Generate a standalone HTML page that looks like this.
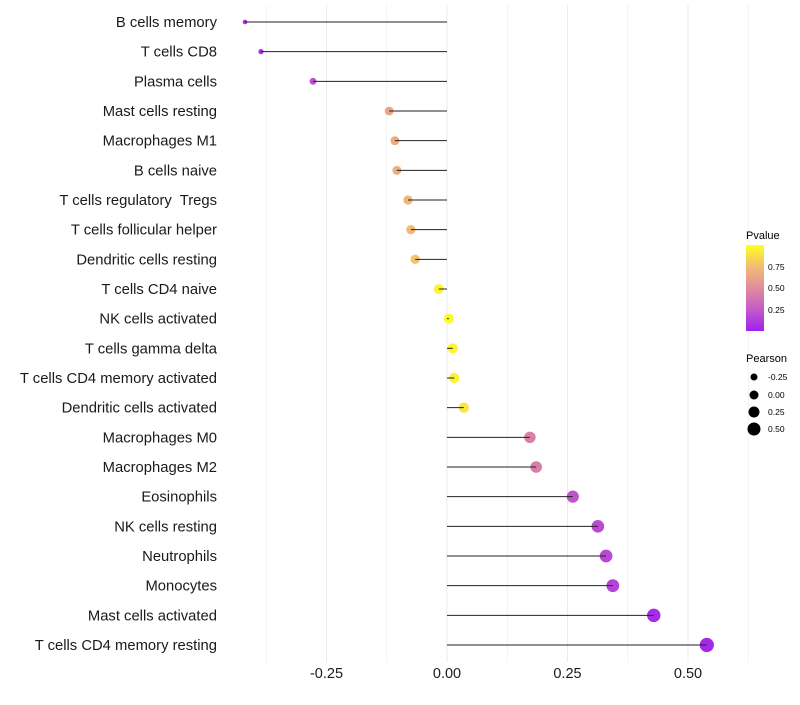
<!DOCTYPE html>
<html><head><meta charset="utf-8"><style>
body{margin:0;background:#fff;font-family:"Liberation Sans",sans-serif}
</style></head><body>
<svg id="chart" width="800" height="700" xmlns="http://www.w3.org/2000/svg">
<g id="grid"></g><g id="dots"></g><g id="marks"></g><g id="labels"></g><g id="axis"></g>
<g id="legend">
<text x="746" y="239" font-size="11" fill="#000">Pvalue</text>
<defs><linearGradient id="pg" x1="0" y1="1" x2="0" y2="0">
<stop offset="0" stop-color="#a020f0"/><stop offset="0.25" stop-color="#c45bc8"/><stop offset="0.5" stop-color="#e08c9c"/><stop offset="0.75" stop-color="#f2bd74"/><stop offset="1" stop-color="#ffff20"/></linearGradient></defs>
<rect x="746" y="245" width="18" height="86" fill="url(#pg)"/>
<text x="768" y="270" font-size="8.5">0.75</text><text x="768" y="291" font-size="8.5">0.50</text><text x="768" y="313" font-size="8.5">0.25</text>
<text x="746" y="362" font-size="11">Pearson</text>
<circle cx="754" cy="377" r="3.5"/><text x="768" y="380" font-size="8.5">-0.25</text>
<circle cx="754" cy="395" r="4.5"/><text x="768" y="398" font-size="8.5">0.00</text>
<circle cx="754" cy="412" r="5.5"/><text x="768" y="415" font-size="8.5">0.25</text>
<circle cx="754" cy="429" r="6.5"/><text x="768" y="432" font-size="8.5">0.50</text>
</g>
</svg>
<script>
const categories=["B cells memory","T cells CD8","Plasma cells","Mast cells resting","Macrophages M1","B cells naive","T cells regulatory  Tregs","T cells follicular helper","Dendritic cells resting","T cells CD4 naive","NK cells activated","T cells gamma delta","T cells CD4 memory activated","Dendritic cells activated","Macrophages M0","Macrophages M2","Eosinophils","NK cells resting","Neutrophils","Monocytes","Mast cells activated","T cells CD4 memory resting"];
const pearson=[-0.419,-0.386,-0.278,-0.120,-0.108,-0.104,-0.081,-0.075,-0.066,-0.017,0.004,0.012,0.015,0.035,0.172,0.185,0.261,0.313,0.330,0.344,0.429,0.539];
const pvalue=[0.05,0.07,0.2,0.64,0.66,0.67,0.72,0.74,0.77,0.95,0.98,0.96,0.95,0.9,0.45,0.43,0.22,0.18,0.17,0.15,0.05,0.03];
const ticks=[-0.25,0,0.25,0.5];
const tickLabels=["-0.25","0.00","0.25","0.50"];
const NS="http://www.w3.org/2000/svg";
const x=v=>447+v*482;
const y=i=>22+i*(623/21);
const r=v=>Math.sqrt(Math.max(4,25+47*v));
const stops=[[0,[160,32,240]],[0.25,[196,91,200]],[0.5,[224,140,156]],[0.75,[242,189,116]],[1,[255,255,32]]];
function col(p){for(let k=1;k<stops.length;k++){if(p<=stops[k][0]){const a=stops[k-1],b=stops[k],t=(p-a[0])/(b[0]-a[0]);return 'rgb('+a[1].map((c,j)=>Math.round(c+(b[1][j]-c)*t)).join(',')+')';}}return 'rgb(255,255,32)';}
function mk(t,at,parent){const e=document.createElementNS(NS,t);for(const k in at)e.setAttribute(k,at[k]);document.getElementById(parent).appendChild(e);return e;}
[-0.375,-0.25,-0.125,0,0.125,0.25,0.375,0.5,0.625].forEach(v=>{const g=mk('line',{x1:x(v),x2:x(v),y1:5,y2:662,stroke:'#ebebeb','stroke-width':(v*8)%2===0?1:0.6},'grid');

});
categories.forEach((c,i)=>{
const d=mk('circle',{cx:x(pearson[i]),cy:y(i),r:r(pearson[i]),fill:col(pvalue[i])},'dots');


const l=mk('line',{x1:x(0),x2:x(pearson[i]),y1:y(i),y2:y(i),stroke:'#222','stroke-width':1},'marks');


const t=mk('text',{x:217,y:y(i)+5,'text-anchor':'end','font-size':14.8,fill:'#1a1a1a'},'labels');
t.style.whiteSpace='pre';
t.textContent=c;


});
ticks.forEach((v,i)=>{const t=mk('text',{x:x(v),y:678,'text-anchor':'middle','font-size':14.5,fill:'#1a1a1a'},'axis');
t.textContent=tickLabels[i];

});
</script>
</body></html>
